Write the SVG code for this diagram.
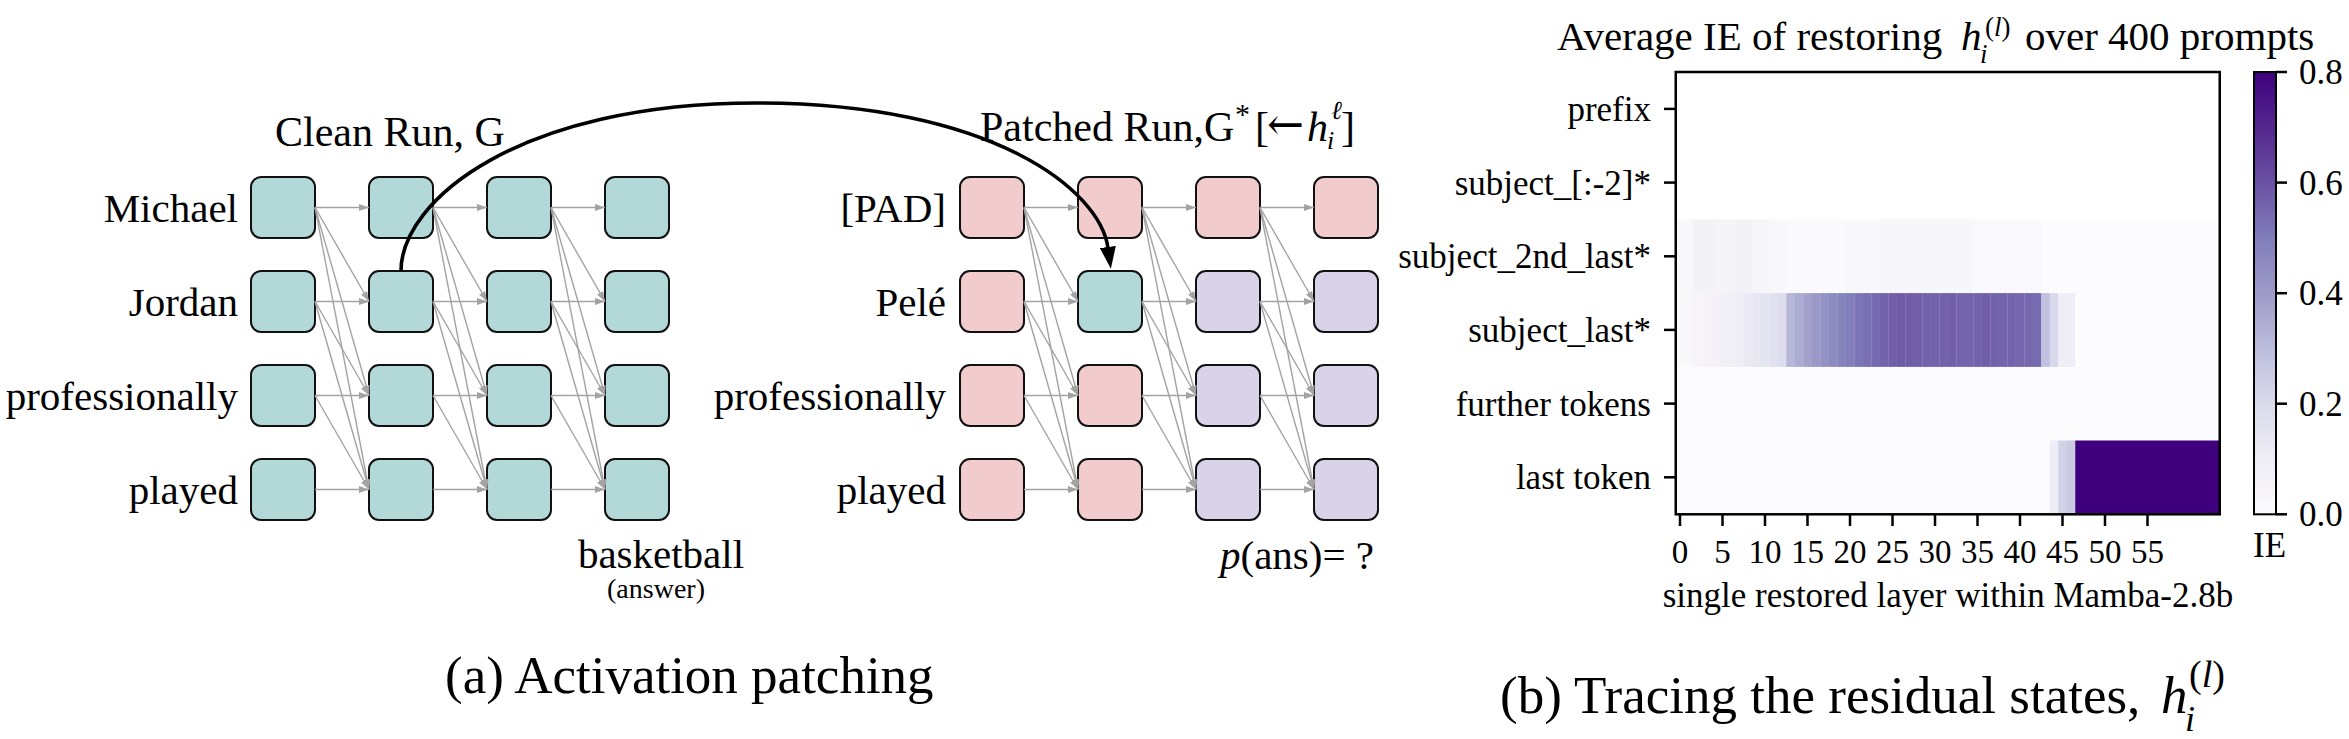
<svg xmlns="http://www.w3.org/2000/svg" xmlns:xlink="http://www.w3.org/1999/xlink" width="2349" height="739" viewBox="0 0 2349 739">
<defs>
<style>
text{font-family:"Liberation Serif","Times New Roman","DejaVu Serif",serif;fill:#000}
.lbl{font-size:41px}
.ttl{font-size:42px}
.cap{font-size:53px}
.hm{font-size:35px}
.tk{font-size:33px}
.it{font-style:italic}
.box{stroke:#111;stroke-width:2}
.teal{fill:#b3d8d8}
.pink{fill:#f2cccc}
.lav{fill:#d9d3e9}
.gl{stroke:#a3a3a3;stroke-width:1.4;fill:none;marker-end:url(#ga)}
.patch{stroke:#000;stroke-width:3.6;fill:none;marker-end:url(#ba)}
.tick{stroke:#000;stroke-width:2.5}
</style>
<marker id="ga" viewBox="0 0 10 7" refX="10" refY="3.5" markerWidth="10" markerHeight="7" markerUnits="userSpaceOnUse" orient="auto"><path d="M0,0 L10,3.5 L0,7 z" fill="#a3a3a3"/></marker>
<marker id="ba" viewBox="0 0 22 16" refX="1" refY="8" markerWidth="22" markerHeight="16" markerUnits="userSpaceOnUse" orient="auto"><path d="M0,0 L22,8 L0,16 z" fill="#000"/></marker>
<linearGradient id="purples" x1="0" y1="1" x2="0" y2="0">
<stop offset="0" stop-color="#fcfbfd"/><stop offset="0.125" stop-color="#efedf5"/><stop offset="0.25" stop-color="#dadaeb"/><stop offset="0.375" stop-color="#bcbddc"/><stop offset="0.5" stop-color="#9e9ac8"/><stop offset="0.625" stop-color="#807dba"/><stop offset="0.75" stop-color="#6a51a3"/><stop offset="0.875" stop-color="#54278f"/><stop offset="1" stop-color="#3f007d"/>
</linearGradient>
<g id="fan">
<line class="gl" x1="0" y1="207.5" x2="54" y2="207.5"/>
<line class="gl" x1="0" y1="207.5" x2="54" y2="301.5"/>
<line class="gl" x1="0" y1="207.5" x2="54" y2="395.5"/>
<line class="gl" x1="0" y1="207.5" x2="54" y2="489.5"/>
<line class="gl" x1="0" y1="301.5" x2="54" y2="301.5"/>
<line class="gl" x1="0" y1="301.5" x2="54" y2="395.5"/>
<line class="gl" x1="0" y1="301.5" x2="54" y2="489.5"/>
<line class="gl" x1="0" y1="395.5" x2="54" y2="395.5"/>
<line class="gl" x1="0" y1="395.5" x2="54" y2="489.5"/>
<line class="gl" x1="0" y1="489.5" x2="54" y2="489.5"/>
</g>
</defs>
<rect width="2349" height="739" fill="#fff"/>

<!-- Panel (a) titles and labels -->
<g id="titles-a">
<text class="ttl" x="275" y="146">Clean Run, G</text>
<text class="ttl" x="980" y="141">Patched Run,G</text>
<text x="1235" y="124" style="font-size:30px">*</text>
<text class="ttl" x="1255" y="141">[</text>
<text x="1267" y="140" style="font-size:46px;font-family:'DejaVu Serif',serif" textLength="37" lengthAdjust="spacingAndGlyphs">←</text>
<text class="ttl it" x="1307" y="141">h</text>
<text class="it" x="1327" y="149" style="font-size:26px">i</text>
<text class="it" x="1331" y="119" style="font-size:26px">ℓ</text>
<text class="ttl" x="1341" y="141">]</text>
</g>
<g id="row-labels" class="lbl" text-anchor="end">
<text x="238" y="222">Michael</text>
<text x="238" y="316">Jordan</text>
<text x="238" y="410">professionally</text>
<text x="238" y="504">played</text>
<text x="946" y="222">[PAD]</text>
<text x="946" y="316">Pelé</text>
<text x="946" y="410">professionally</text>
<text x="946" y="504">played</text>
</g>
<g id="answer-labels">
<text class="lbl" x="661" y="568" text-anchor="middle">basketball</text>
<text x="656" y="598" text-anchor="middle" style="font-size:28px">(answer)</text>
<text class="lbl" x="1220" y="569"><tspan class="it">p</tspan>(ans)= ?</text>
</g>

<!-- Clean run nodes -->
<g id="c-r1-c1"><rect class="box teal" x="251" y="177" width="64" height="61" rx="10"/></g>
<g id="c-r1-c2"><rect class="box teal" x="369" y="177" width="64" height="61" rx="10"/></g>
<g id="c-r1-c3"><rect class="box teal" x="487" y="177" width="64" height="61" rx="10"/></g>
<g id="c-r1-c4"><rect class="box teal" x="605" y="177" width="64" height="61" rx="10"/></g>
<g id="c-r2-c1"><rect class="box teal" x="251" y="271" width="64" height="61" rx="10"/></g>
<g id="c-r2-c2"><rect class="box teal" x="369" y="271" width="64" height="61" rx="10"/></g>
<g id="c-r2-c3"><rect class="box teal" x="487" y="271" width="64" height="61" rx="10"/></g>
<g id="c-r2-c4"><rect class="box teal" x="605" y="271" width="64" height="61" rx="10"/></g>
<g id="c-r3-c1"><rect class="box teal" x="251" y="365" width="64" height="61" rx="10"/></g>
<g id="c-r3-c2"><rect class="box teal" x="369" y="365" width="64" height="61" rx="10"/></g>
<g id="c-r3-c3"><rect class="box teal" x="487" y="365" width="64" height="61" rx="10"/></g>
<g id="c-r3-c4"><rect class="box teal" x="605" y="365" width="64" height="61" rx="10"/></g>
<g id="c-r4-c1"><rect class="box teal" x="251" y="459" width="64" height="61" rx="10"/></g>
<g id="c-r4-c2"><rect class="box teal" x="369" y="459" width="64" height="61" rx="10"/></g>
<g id="c-r4-c3"><rect class="box teal" x="487" y="459" width="64" height="61" rx="10"/></g>
<g id="c-r4-c4"><rect class="box teal" x="605" y="459" width="64" height="61" rx="10"/></g>

<!-- Patched run nodes -->
<g id="p-r1-c1"><rect class="box pink" x="960" y="177" width="64" height="61" rx="10"/></g>
<g id="p-r1-c2"><rect class="box pink" x="1078" y="177" width="64" height="61" rx="10"/></g>
<g id="p-r1-c3"><rect class="box pink" x="1196" y="177" width="64" height="61" rx="10"/></g>
<g id="p-r1-c4"><rect class="box pink" x="1314" y="177" width="64" height="61" rx="10"/></g>
<g id="p-r2-c1"><rect class="box pink" x="960" y="271" width="64" height="61" rx="10"/></g>
<g id="p-r2-c2"><rect class="box teal" x="1078" y="271" width="64" height="61" rx="10"/></g>
<g id="p-r2-c3"><rect class="box lav" x="1196" y="271" width="64" height="61" rx="10"/></g>
<g id="p-r2-c4"><rect class="box lav" x="1314" y="271" width="64" height="61" rx="10"/></g>
<g id="p-r3-c1"><rect class="box pink" x="960" y="365" width="64" height="61" rx="10"/></g>
<g id="p-r3-c2"><rect class="box pink" x="1078" y="365" width="64" height="61" rx="10"/></g>
<g id="p-r3-c3"><rect class="box lav" x="1196" y="365" width="64" height="61" rx="10"/></g>
<g id="p-r3-c4"><rect class="box lav" x="1314" y="365" width="64" height="61" rx="10"/></g>
<g id="p-r4-c1"><rect class="box pink" x="960" y="459" width="64" height="61" rx="10"/></g>
<g id="p-r4-c2"><rect class="box pink" x="1078" y="459" width="64" height="61" rx="10"/></g>
<g id="p-r4-c3"><rect class="box lav" x="1196" y="459" width="64" height="61" rx="10"/></g>
<g id="p-r4-c4"><rect class="box lav" x="1314" y="459" width="64" height="61" rx="10"/></g>

<!-- Connectors -->
<g id="connectors">
<use xlink:href="#fan" href="#fan" x="315"/>
<use xlink:href="#fan" href="#fan" x="433"/>
<use xlink:href="#fan" href="#fan" x="551"/>
<use xlink:href="#fan" href="#fan" x="1024"/>
<use xlink:href="#fan" href="#fan" x="1142"/>
<use xlink:href="#fan" href="#fan" x="1260"/>
<path class="patch" d="M401,271 C401,200 520,103 756,103 C992,103 1100,190 1108,248"/>
</g>

<!-- Captions -->
<g id="captions">
<text class="cap" x="445" y="693">(a) Activation patching</text>
<text class="cap" x="1500" y="713">(b) Tracing the residual states,</text>
<text class="it" x="2161" y="713" style="font-size:53px">h</text>
<text class="it" x="2185" y="731" style="font-size:36px">i</text>
<text x="2189" y="687" style="font-size:38px">(<tspan class="it">l</tspan>)</text>
</g>

<!-- Heatmap -->
<g id="heatmap">
<text x="1557" y="50" style="font-size:41px">Average IE of restoring</text>
<text class="it" x="1961" y="50" style="font-size:41px">h</text>
<text class="it" x="1980" y="63" style="font-size:27px">i</text>
<text x="1985" y="36" style="font-size:27px">(<tspan class="it">l</tspan>)</text>
<text x="2025" y="50" style="font-size:41px">over 400 prompts</text>

<rect x="1675.75" y="219.4" width="544" height="294.8" fill="#fcfbfd"/>
<g id="row-2nd-last">
<rect x="1675.75" y="219.4" width="17.2" height="73.8" fill="#f8f7fa"/>
<rect x="1692.75" y="219.4" width="25.7" height="73.8" fill="#f3f2f7"/>
<rect x="1718.25" y="219.4" width="17.2" height="73.8" fill="#f5f4f8"/>
<rect x="1735.25" y="219.4" width="17.2" height="73.8" fill="#f3f2f7"/>
<rect x="1752.25" y="219.4" width="17.2" height="73.8" fill="#f6f5f9"/>
<rect x="1769.25" y="219.4" width="17.2" height="73.8" fill="#f8f7fa"/>
<rect x="1786.25" y="219.4" width="59.7" height="73.8" fill="#fafafc"/>
<rect x="1845.75" y="219.4" width="34.2" height="73.8" fill="#f8f7fa"/>
<rect x="1879.75" y="219.4" width="93.7" height="73.8" fill="#f7f6fa"/>
<rect x="1973.25" y="219.4" width="68" height="73.8" fill="#f9f9fb"/>
</g>
<g id="row-last-subj">
<rect x="1675.75" y="293.1" width="8.7" height="73.8" fill="#f9f8fb"/>
<rect x="1684.25" y="293.1" width="8.7" height="73.8" fill="#f8f7fa"/>
<rect x="1692.75" y="293.1" width="8.7" height="73.8" fill="#f6f4f9"/>
<rect x="1701.25" y="293.1" width="8.7" height="73.8" fill="#f5f3f8"/>
<rect x="1709.75" y="293.1" width="8.7" height="73.8" fill="#f4f2f8"/>
<rect x="1718.25" y="293.1" width="8.7" height="73.8" fill="#f2f0f7"/>
<rect x="1726.75" y="293.1" width="8.7" height="73.8" fill="#f1eff6"/>
<rect x="1735.25" y="293.1" width="8.7" height="73.8" fill="#eeecf5"/>
<rect x="1743.75" y="293.1" width="8.7" height="73.8" fill="#ebe9f3"/>
<rect x="1752.25" y="293.1" width="8.7" height="73.8" fill="#e7e6f1"/>
<rect x="1760.75" y="293.1" width="8.7" height="73.8" fill="#e4e3f0"/>
<rect x="1769.25" y="293.1" width="8.7" height="73.8" fill="#e1e0ee"/>
<rect x="1777.75" y="293.1" width="8.7" height="73.8" fill="#dddded"/>
<rect x="1786.25" y="293.1" width="8.7" height="73.8" fill="#b6b6d8"/>
<rect x="1794.75" y="293.1" width="8.7" height="73.8" fill="#acabd2"/>
<rect x="1803.25" y="293.1" width="8.7" height="73.8" fill="#a3a0cb"/>
<rect x="1811.75" y="293.1" width="8.7" height="73.8" fill="#9c98c7"/>
<rect x="1820.25" y="293.1" width="8.7" height="73.8" fill="#9491c4"/>
<rect x="1828.75" y="293.1" width="8.7" height="73.8" fill="#8d8ac0"/>
<rect x="1837.25" y="293.1" width="8.7" height="73.8" fill="#8683bd"/>
<rect x="1845.75" y="293.1" width="8.7" height="73.8" fill="#817ebb"/>
<rect x="1854.25" y="293.1" width="8.7" height="73.8" fill="#7d76b6"/>
<rect x="1862.75" y="293.1" width="8.7" height="73.8" fill="#796fb3"/>
<rect x="1871.25" y="293.1" width="8.7" height="73.8" fill="#766ab0"/>
<rect x="1879.75" y="293.1" width="8.7" height="73.8" fill="#7363ac"/>
<rect x="1888.25" y="293.1" width="8.7" height="73.8" fill="#715faa"/>
<rect x="1896.75" y="293.1" width="8.7" height="73.8" fill="#6f5ca9"/>
<rect x="1905.25" y="293.1" width="8.7" height="73.8" fill="#705da9"/>
<rect x="1913.75" y="293.1" width="8.7" height="73.8" fill="#715faa"/>
<rect x="1922.25" y="293.1" width="8.7" height="73.8" fill="#7261ab"/>
<rect x="1930.75" y="293.1" width="8.7" height="73.8" fill="#7363ac"/>
<rect x="1939.25" y="293.1" width="8.7" height="73.8" fill="#7261ab"/>
<rect x="1947.75" y="293.1" width="8.7" height="73.8" fill="#715faa"/>
<rect x="1956.25" y="293.1" width="8.7" height="73.8" fill="#7363ac"/>
<rect x="1964.75" y="293.1" width="8.7" height="73.8" fill="#7464ad"/>
<rect x="1973.25" y="293.1" width="8.7" height="73.8" fill="#7363ac"/>
<rect x="1981.75" y="293.1" width="8.7" height="73.8" fill="#715faa"/>
<rect x="1990.25" y="293.1" width="8.7" height="73.8" fill="#7261ab"/>
<rect x="1998.75" y="293.1" width="8.7" height="73.8" fill="#7363ac"/>
<rect x="2007.25" y="293.1" width="8.7" height="73.8" fill="#7464ad"/>
<rect x="2015.75" y="293.1" width="8.7" height="73.8" fill="#7566ae"/>
<rect x="2024.25" y="293.1" width="8.7" height="73.8" fill="#7568af"/>
<rect x="2032.75" y="293.1" width="8.7" height="73.8" fill="#766ab0"/>
<rect x="2041.25" y="293.1" width="8.7" height="73.8" fill="#c0c1de"/>
<rect x="2049.75" y="293.1" width="8.7" height="73.8" fill="#d8d8ea"/>
<rect x="2058.25" y="293.1" width="17" height="73.8" fill="#efedf5"/>
</g>
<g id="row-last-token">
<rect x="2049.75" y="440.5" width="8.7" height="73.8" fill="#eeedf5"/>
<rect x="2058.25" y="440.5" width="8.7" height="73.8" fill="#d2d2e7"/>
<rect x="2066.75" y="440.5" width="8.7" height="73.8" fill="#cacae3"/>
<rect x="2075.25" y="440.5" width="144.5" height="73.8" fill="#3f007d"/>
</g>
<rect x="1675.75" y="72" width="544" height="442.3" fill="none" stroke="#000" stroke-width="2.5"/>

<g id="y-ticks">
<line class="tick" x1="1664" y1="108.9" x2="1676" y2="108.9"/>
<line class="tick" x1="1664" y1="182.6" x2="1676" y2="182.6"/>
<line class="tick" x1="1664" y1="256.3" x2="1676" y2="256.3"/>
<line class="tick" x1="1664" y1="329.9" x2="1676" y2="329.9"/>
<line class="tick" x1="1664" y1="403.6" x2="1676" y2="403.6"/>
<line class="tick" x1="1664" y1="477.3" x2="1676" y2="477.3"/>
</g>
<g class="hm" text-anchor="end">
<text x="1651" y="121">prefix</text>
<text x="1651" y="195">subject_[:-2]*</text>
<text x="1651" y="268">subject_2nd_last*</text>
<text x="1651" y="342">subject_last*</text>
<text x="1651" y="416">further tokens</text>
<text x="1651" y="489">last token</text>
</g>
<g id="x-ticks">
<line class="tick" x1="1680" y1="514" x2="1680" y2="526"/>
<line class="tick" x1="1722.5" y1="514" x2="1722.5" y2="526"/>
<line class="tick" x1="1765" y1="514" x2="1765" y2="526"/>
<line class="tick" x1="1807.5" y1="514" x2="1807.5" y2="526"/>
<line class="tick" x1="1850" y1="514" x2="1850" y2="526"/>
<line class="tick" x1="1892.5" y1="514" x2="1892.5" y2="526"/>
<line class="tick" x1="1935" y1="514" x2="1935" y2="526"/>
<line class="tick" x1="1977.5" y1="514" x2="1977.5" y2="526"/>
<line class="tick" x1="2020" y1="514" x2="2020" y2="526"/>
<line class="tick" x1="2062.5" y1="514" x2="2062.5" y2="526"/>
<line class="tick" x1="2105" y1="514" x2="2105" y2="526"/>
<line class="tick" x1="2147.5" y1="514" x2="2147.5" y2="526"/>
</g>
<g class="tk" text-anchor="middle">
<text x="1680" y="563">0</text>
<text x="1722.5" y="563">5</text>
<text x="1765" y="563">10</text>
<text x="1807.5" y="563">15</text>
<text x="1850" y="563">20</text>
<text x="1892.5" y="563">25</text>
<text x="1935" y="563">30</text>
<text x="1977.5" y="563">35</text>
<text x="2020" y="563">40</text>
<text x="2062.5" y="563">45</text>
<text x="2105" y="563">50</text>
<text x="2147.5" y="563">55</text>
</g>
<text class="hm" x="1948" y="607" text-anchor="middle">single restored layer within Mamba-2.8b</text>

<g id="colorbar">
<rect x="2254" y="72" width="22" height="442.3" fill="url(#purples)" stroke="#000" stroke-width="2"/>
<line class="tick" x1="2276" y1="72" x2="2287" y2="72"/>
<line class="tick" x1="2276" y1="182.6" x2="2287" y2="182.6"/>
<line class="tick" x1="2276" y1="293.2" x2="2287" y2="293.2"/>
<line class="tick" x1="2276" y1="403.7" x2="2287" y2="403.7"/>
<line class="tick" x1="2276" y1="514.3" x2="2287" y2="514.3"/>
<g class="hm">
<text x="2299" y="84">0.8</text>
<text x="2299" y="194.6">0.6</text>
<text x="2299" y="305.2">0.4</text>
<text x="2299" y="415.7">0.2</text>
<text x="2299" y="526.3">0.0</text>
<text x="2253" y="557">IE</text>
</g>
</g>
</g>
</svg>
